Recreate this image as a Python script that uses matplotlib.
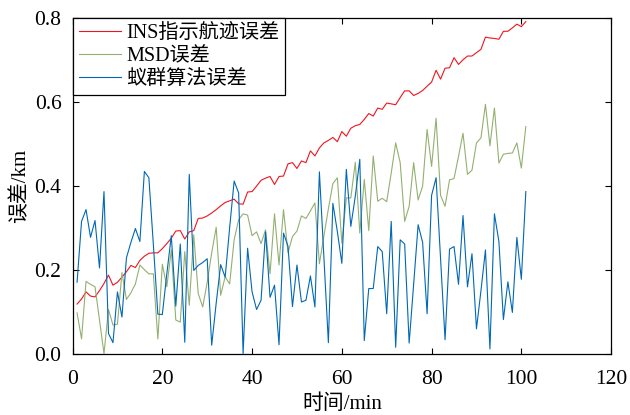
import numpy as np
import matplotlib
matplotlib.use('Agg')
import matplotlib.pyplot as plt

plt.rcParams['font.family'] = ['Liberation Serif', 'Noto Sans CJK SC']
plt.rcParams['axes.unicode_minus'] = False

# 时间 (min)
t = np.arange(1, 102)

# INS指示航迹误差
ins_err = [0.118, 0.13, 0.147, 0.137, 0.135, 0.15, 0.167, 0.187, 0.163, 0.17,
           0.182, 0.195, 0.21, 0.205, 0.222, 0.232, 0.239, 0.24, 0.24, 0.25,
           0.262, 0.275, 0.292, 0.293, 0.273, 0.29, 0.293, 0.322, 0.323, 0.328,
           0.335, 0.343, 0.352, 0.36, 0.364, 0.368, 0.357, 0.356, 0.385, 0.386,
           0.399, 0.413, 0.418, 0.422, 0.403, 0.422, 0.423, 0.452, 0.455, 0.441,
           0.459, 0.455, 0.483, 0.471, 0.49, 0.502, 0.508, 0.515, 0.505, 0.529,
           0.518, 0.537, 0.543, 0.546, 0.558, 0.572, 0.566, 0.585, 0.582, 0.597,
           0.595, 0.593, 0.61, 0.626, 0.626, 0.615, 0.62, 0.627, 0.637, 0.647,
           0.675, 0.654, 0.68, 0.681, 0.705, 0.689, 0.70, 0.709, 0.709, 0.717,
           0.725, 0.754, 0.752, 0.751, 0.749, 0.768, 0.768, 0.776, 0.785, 0.779,
           0.791]

# MSD误差
msd_err = [0.097, 0.035, 0.172, 0.165, 0.159, 0.08, 0.0, 0.105, 0.068, 0.07,
           0.193, 0.129, 0.145, 0.166, 0.211, 0.2, 0.19, 0.19, 0.035, 0.213,
           0.159, 0.247, 0.08, 0.075, 0.243, 0.115, 0.283, 0.143, 0.111, 0.17,
           0.24, 0.301, 0.139, 0.183, 0.166, 0.271, 0.319, 0.333, 0.33, 0.281,
           0.29, 0.262, 0.295, 0.19, 0.333, 0.211, 0.343, 0.24, 0.279, 0.292,
           0.328, 0.322, 0.34, 0.359, 0.214, 0.28, 0.345, 0.405, 0.419, 0.263,
           0.371, 0.371, 0.456, 0.287, 0.415, 0.293, 0.471, 0.363, 0.37, 0.362,
           0.43, 0.502, 0.455, 0.315, 0.351, 0.455, 0.366, 0.399, 0.534, 0.446,
           0.561, 0.377, 0.351, 0.414, 0.417, 0.47, 0.525, 0.427, 0.437, 0.502,
           0.514, 0.594, 0.495, 0.585, 0.454, 0.475, 0.477, 0.478, 0.502, 0.442,
           0.541]

# 蚁群算法误差
aco_err = [0.17, 0.315, 0.343, 0.277, 0.317, 0.204, 0.386, 0.048, 0.026, 0.147,
           0.087, 0.228, 0.265, 0.298, 0.267, 0.434, 0.419, 0.26, 0.094, 0.093,
           0.19, 0.281, 0.113, 0.261, 0.027, 0.427, 0.198, 0.21, 0.217, 0.226,
           0.02, 0.12, 0.212, 0.182, 0.3, 0.411, 0.383, 0.0, 0.251, 0.147,
           0.105, 0.127, 0.29, 0.134, 0.163, 0.021, 0.287, 0.256, 0.112, 0.211,
           0.123, 0.127, 0.185, 0.111, 0.433, 0.23, 0.026, 0.358, 0.291, 0.215,
           0.439, 0.303, 0.375, 0.463, 0.031, 0.155, 0.155, 0.255, 0.243, 0.095,
           0.315, 0.015, 0.271, 0.261, 0.025, 0.165, 0.307, 0.265, 0.095, 0.377,
           0.419, 0.226, 0.033, 0.249, 0.255, 0.165, 0.329, 0.159, 0.238, 0.059,
           0.15, 0.247, 0.011, 0.333, 0.267, 0.081, 0.171, 0.098, 0.277, 0.177,
           0.386]

fig = plt.figure(figsize=(6.3, 4.15), dpi=100)
ax = fig.add_axes([0.1152, 0.148, 0.8548, 0.809])

ax.plot(t, ins_err, color='#f0141e', linewidth=0.8, label='INS指示航迹误差')
ax.plot(t, msd_err, color='#93b071', linewidth=0.8, label='MSD误差')
ax.plot(t, aco_err, color='#0068b5', linewidth=0.8, label='蚁群算法误差')

ax.set_xlim(0, 120)
ax.set_ylim(0, 0.8)
ax.set_xticks([0, 20, 40, 60, 80, 100, 120])
ax.set_yticks([0.0, 0.2, 0.4, 0.6, 0.8])
ax.set_yticklabels(['0.0', '0.2', '0.4', '0.6', '0.8'])
ax.tick_params(direction='in', top=True, right=True, length=4, width=0.8,
               labelsize=15.5)
ax.tick_params(axis='x', pad=12)
ax.tick_params(axis='y', pad=8)
for sp in ax.spines.values():
    sp.set_linewidth(0.9)

ax.set_xlabel('时间/min', fontsize=15, labelpad=4)
ax.set_ylabel('误差/km', fontsize=15, labelpad=3)

leg = ax.legend(loc='upper left', fontsize=14.5, frameon=True, fancybox=False,
                edgecolor='black', framealpha=1, borderaxespad=0,
                handlelength=2.1, handletextpad=0.25, labelspacing=0.2,
                borderpad=0.3)
leg.get_frame().set_linewidth(0.9)

plt.savefig('out.png', dpi=100)
